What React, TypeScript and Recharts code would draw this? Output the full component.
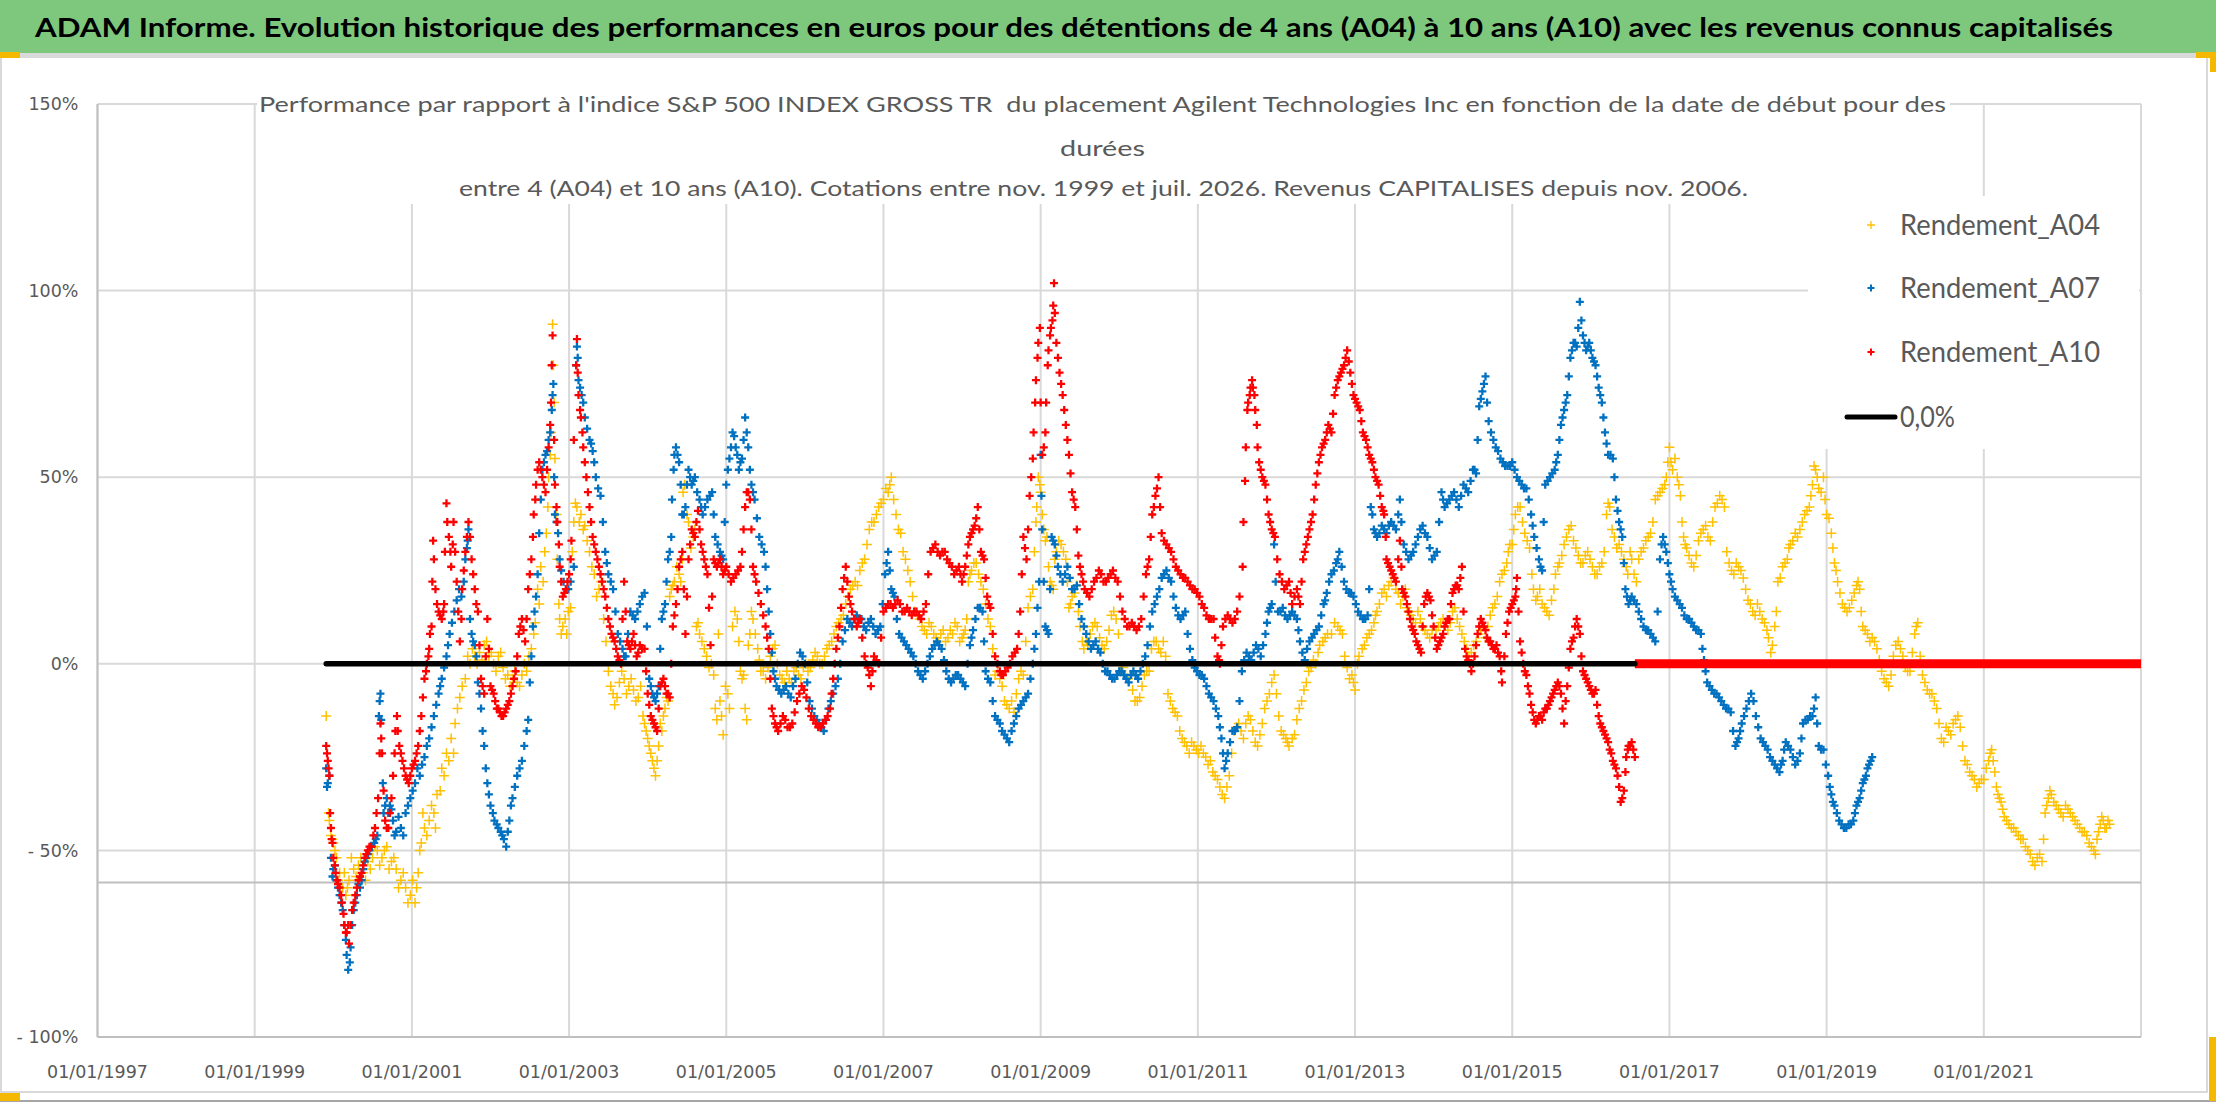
import React from 'react';
import { ScatterChart, Scatter, XAxis, YAxis, CartesianGrid, ReferenceLine } from 'recharts';

const CHART_W = 2216;
const CHART_H = 1102;

const MAIN_TITLE =
  'ADAM Informe. Evolution historique des performances en euros pour des détentions de 4 ans (A04) à 10 ans (A10) avec les revenus connus capitalisés';
const SUB_TITLE_LINES = [
  "Performance par rapport à l'indice S&P 500 INDEX GROSS TR  du placement Agilent Technologies Inc en fonction de la date de début pour des",
  'durées',
  'entre 4 (A04) et 10 ans (A10). Cotations entre nov. 1999 et juil. 2026. Revenus CAPITALISES depuis nov. 2006.',
];
const SERIES_NAMES = ['Rendement_A04', 'Rendement_A07', 'Rendement_A10', '0,0%'];
const SERIES_COLORS = ['#FFC000', '#0070C0', '#FF0000', '#000000'];

const X_TICKS = [1997, 1999, 2001, 2003, 2005, 2007, 2009, 2011, 2013, 2015, 2017, 2019, 2021];
const X_DOMAIN: [number, number] = [1997, 2023];
const Y_TICKS = [-100, -50, 0, 50, 100, 150];
const Y_DOMAIN: [number, number] = [-100, 150];
const H_AXIS_CROSS = -58.6;

// [date (decimal year), performance %] — centre of each band
const A04: [number, number][] = [
  [1999.91, -14], [1999.94, -40], [1999.97, -46], [2000.0, -48], [2000.04, -52], [2000.08, -56], [2000.12, -60], [2000.16, -62],
  [2000.2, -58], [2000.26, -55], [2000.32, -54], [2000.38, -56], [2000.44, -53], [2000.5, -52], [2000.56, -50], [2000.62, -52],
  [2000.68, -49], [2000.74, -53], [2000.8, -55], [2000.86, -58], [2000.92, -60], [2000.98, -62], [2001.04, -64], [2001.08, -56],
  [2001.12, -48], [2001.16, -44], [2001.22, -42], [2001.28, -40], [2001.32, -35], [2001.38, -28], [2001.44, -24], [2001.5, -20],
  [2001.55, -16], [2001.61, -9], [2001.68, -4], [2001.74, 0], [2001.8, 2], [2001.86, 3], [2001.92, 5], [2001.98, 2],
  [2002.04, 0], [2002.1, 2], [2002.16, -1], [2002.22, -3], [2002.28, -4], [2002.34, -5], [2002.4, -3], [2002.46, -2],
  [2002.52, 4], [2002.57, 11], [2002.62, 16], [2002.67, 22], [2002.71, 35], [2002.74, 50], [2002.77, 62], [2002.79, 91],
  [2002.8, 80], [2002.82, 55], [2002.85, 28], [2002.88, 12], [2002.92, 10], [2002.97, 8], [2003.02, 15], [2003.06, 38],
  [2003.1, 42], [2003.15, 40], [2003.2, 37], [2003.26, 30], [2003.32, 24], [2003.38, 20], [2003.44, 12], [2003.5, -2],
  [2003.56, -8], [2003.58, -11], [2003.64, -5], [2003.7, -4], [2003.76, -6], [2003.82, -7], [2003.88, -9], [2003.94, -14],
  [2003.98, -18], [2004.02, -22], [2004.06, -26], [2004.1, -30], [2004.14, -22], [2004.18, -18], [2004.22, -12], [2004.26, -10],
  [2004.3, 20], [2004.34, 22], [2004.4, 24], [2004.44, 28], [2004.47, 48], [2004.52, 38], [2004.58, 34], [2004.62, 10],
  [2004.66, 8], [2004.72, 4], [2004.78, -1], [2004.84, -3], [2004.88, -15], [2004.92, -10], [2004.96, -19], [2005.02, -8],
  [2005.08, 10], [2005.14, 12], [2005.18, -2], [2005.22, -3], [2005.26, -15], [2005.3, 8], [2005.34, 12], [2005.4, 4],
  [2005.44, -2], [2005.5, -4], [2005.56, 2], [2005.62, 5], [2005.68, -3], [2005.74, -5], [2005.8, -4], [2005.86, -2],
  [2005.92, -3], [2005.98, -1], [2006.04, -2], [2006.1, 1], [2006.16, 2], [2006.22, 0], [2006.28, 4], [2006.34, 6],
  [2006.4, 10], [2006.46, 12], [2006.52, 16], [2006.58, 20], [2006.64, 22], [2006.7, 25], [2006.76, 28], [2006.82, 36],
  [2006.88, 38], [2006.94, 42], [2007.0, 44], [2007.06, 46], [2007.1, 50], [2007.16, 40], [2007.22, 35], [2007.28, 28],
  [2007.34, 22], [2007.4, 14], [2007.46, 12], [2007.52, 9], [2007.58, 11], [2007.64, 8], [2007.7, 6], [2007.76, 9],
  [2007.82, 7], [2007.88, 8], [2007.94, 10], [2008.0, 7], [2008.04, 9], [2008.08, 22], [2008.12, 25], [2008.18, 27],
  [2008.24, 22], [2008.3, 16], [2008.36, 10], [2008.42, -3], [2008.48, -4], [2008.54, -10], [2008.6, -12], [2008.66, -13],
  [2008.72, -4], [2008.78, -3], [2008.84, 15], [2008.9, 20], [2008.94, 38], [2008.97, 50], [2009.0, 46], [2009.04, 36],
  [2009.08, 34], [2009.12, 22], [2009.16, 20], [2009.2, 30], [2009.26, 32], [2009.32, 28], [2009.36, 15], [2009.4, 18],
  [2009.46, 21], [2009.5, 10], [2009.55, 4], [2009.6, 5], [2009.66, 10], [2009.72, 10], [2009.78, 5], [2009.84, 6],
  [2009.9, 13], [2009.96, 12], [2010.02, -2], [2010.08, -3], [2010.14, -3], [2010.2, -10], [2010.26, -9], [2010.32, -3],
  [2010.38, -2], [2010.44, 6], [2010.5, 4], [2010.56, 6], [2010.62, -8], [2010.68, -12], [2010.74, -14], [2010.8, -20],
  [2010.86, -22], [2010.92, -21], [2010.98, -23], [2011.04, -22], [2011.1, -25], [2011.16, -26], [2011.22, -30], [2011.28, -33],
  [2011.34, -36], [2011.4, -30], [2011.46, -18], [2011.52, -16], [2011.58, -20], [2011.64, -14], [2011.7, -18], [2011.76, -22],
  [2011.82, -16], [2011.88, -10], [2011.94, -5], [2012.0, -8], [2012.06, -18], [2012.12, -20], [2012.16, -22], [2012.2, -20],
  [2012.26, -15], [2012.32, -10], [2012.38, -5], [2012.44, -1], [2012.5, 0], [2012.55, 5], [2012.62, 7], [2012.7, 8],
  [2012.78, 10], [2012.84, 8], [2012.9, -1], [2012.96, -3], [2013.0, -7], [2013.05, 2], [2013.12, 5], [2013.18, 8],
  [2013.24, 11], [2013.28, 14], [2013.34, 19], [2013.4, 18], [2013.46, 22], [2013.52, 20], [2013.58, 16], [2013.64, 20],
  [2013.68, 14], [2013.74, 12], [2013.8, 14], [2013.86, 10], [2013.92, 8], [2013.98, 9], [2014.06, 10], [2014.12, 12],
  [2014.18, 9], [2014.24, 14], [2014.3, 12], [2014.36, 8], [2014.42, 4], [2014.48, 3], [2014.54, 6], [2014.6, 9],
  [2014.66, 7], [2014.72, 13], [2014.78, 16], [2014.84, 22], [2014.9, 25], [2014.95, 30], [2015.0, 32], [2015.04, 40],
  [2015.1, 42], [2015.16, 35], [2015.22, 31], [2015.27, 20], [2015.32, 18], [2015.38, 16], [2015.44, 14], [2015.5, 17],
  [2015.55, 24], [2015.6, 27], [2015.66, 32], [2015.72, 36], [2015.78, 33], [2015.84, 29], [2015.9, 27], [2015.96, 30],
  [2016.02, 26], [2016.08, 24], [2016.14, 27], [2016.2, 40], [2016.24, 42], [2016.3, 34], [2016.36, 32], [2016.42, 28],
  [2016.47, 24], [2016.52, 28], [2016.58, 22], [2016.64, 30], [2016.7, 33], [2016.76, 35], [2016.82, 44], [2016.88, 46],
  [2016.94, 48], [2016.98, 54], [2017.0, 58], [2017.04, 52], [2017.1, 50], [2017.14, 45], [2017.18, 34], [2017.22, 31],
  [2017.28, 27], [2017.34, 29], [2017.4, 35], [2017.46, 37], [2017.52, 33], [2017.58, 42], [2017.64, 45], [2017.7, 42],
  [2017.76, 27], [2017.82, 24], [2017.88, 26], [2017.94, 23], [2018.0, 17], [2018.06, 14], [2018.12, 16], [2018.18, 12],
  [2018.24, 9], [2018.29, 3], [2018.34, 10], [2018.38, 22], [2018.44, 26], [2018.5, 28], [2018.54, 32], [2018.6, 35],
  [2018.66, 36], [2018.72, 40], [2018.78, 42], [2018.82, 48], [2018.86, 52], [2018.9, 47], [2018.96, 50], [2019.0, 40],
  [2019.06, 35], [2019.1, 27], [2019.14, 22], [2019.2, 16], [2019.26, 14], [2019.32, 17], [2019.38, 21], [2019.42, 20],
  [2019.46, 10], [2019.52, 8], [2019.58, 7], [2019.64, 4], [2019.7, -2], [2019.76, -5], [2019.82, -3], [2019.88, 5],
  [2019.94, 4], [2020.0, -1], [2020.06, -2], [2020.12, 8], [2020.16, 11], [2020.22, -3], [2020.28, -7], [2020.34, -8],
  [2020.4, -12], [2020.46, -20], [2020.52, -17], [2020.58, -19], [2020.64, -15], [2020.7, -17], [2020.76, -26], [2020.82, -29],
  [2020.88, -31], [2020.94, -32], [2021.0, -31], [2021.06, -26], [2021.1, -23], [2021.14, -29], [2021.18, -35], [2021.22, -37],
  [2021.26, -41], [2021.32, -43], [2021.38, -44], [2021.44, -46], [2021.5, -47], [2021.56, -50], [2021.62, -53], [2021.68, -52],
  [2021.74, -53], [2021.78, -40], [2021.82, -36], [2021.86, -35], [2021.92, -38], [2021.98, -40], [2022.04, -38], [2022.1, -40],
  [2022.16, -42], [2022.22, -44], [2022.28, -45], [2022.34, -48], [2022.4, -50], [2022.44, -47], [2022.48, -43], [2022.52, -42],
  [2022.56, -44], [2022.6, -43],
];

// second reading of the A04 band (its other edge)
const A04_EDGE: [number, number][] = [
  [1999.95, -42], [1999.99, -47], [2000.02, -50], [2000.06, -58], [2000.1, -62], [2000.14, -56], [2000.18, -60], [2000.23, -52],
  [2000.29, -57], [2000.35, -52], [2000.41, -58], [2000.47, -55], [2000.53, -49], [2000.59, -54], [2000.65, -50], [2000.71, -55],
  [2000.77, -52], [2000.83, -60], [2000.89, -56], [2000.95, -64], [2001.01, -58], [2001.06, -60], [2001.1, -50], [2001.14, -40],
  [2001.19, -46], [2001.25, -38], [2001.3, -44], [2001.36, -34], [2001.41, -30], [2001.47, -26], [2001.53, -24], [2001.58, -12],
  [2001.64, -6], [2001.71, 2], [2001.77, 4], [2001.83, 0], [2001.89, 1], [2001.95, 6], [2002.01, 3], [2002.07, -2],
  [2002.13, 3], [2002.19, -4], [2002.25, -6], [2002.31, -2], [2002.37, -6], [2002.43, 0], [2002.49, 2], [2002.55, 8],
  [2002.6, 20], [2002.64, 26], [2002.69, 30], [2002.73, 42], [2002.76, 56], [2002.78, 80], [2002.81, 70], [2002.84, 40],
  [2002.87, 16], [2002.9, 8], [2002.95, 12], [2002.99, 14], [2003.04, 30], [2003.08, 43], [2003.13, 38], [2003.18, 36],
  [2003.23, 33], [2003.29, 26], [2003.35, 18], [2003.41, 22], [2003.47, 6], [2003.53, -6], [2003.61, -9], [2003.67, -2],
  [2003.73, -8], [2003.79, -4], [2003.85, -10], [2003.91, -6], [2003.96, -16], [2004.0, -20], [2004.04, -24], [2004.08, -28],
  [2004.12, -26], [2004.16, -16], [2004.2, -14], [2004.24, -9], [2004.28, 18], [2004.32, 21], [2004.37, 26], [2004.42, 22],
  [2004.45, 46], [2004.5, 40], [2004.55, 31], [2004.6, 36], [2004.64, 11], [2004.69, 6], [2004.75, 2], [2004.81, 0],
  [2004.86, -12], [2004.9, 8], [2004.94, -14], [2004.99, -6], [2005.04, -12], [2005.11, 14], [2005.16, 6], [2005.2, -4],
  [2005.24, -12], [2005.28, 5], [2005.32, 14], [2005.37, 8], [2005.42, 1], [2005.47, -2], [2005.53, -1], [2005.59, 4],
  [2005.65, 0], [2005.71, -4], [2005.77, -2], [2005.83, -5], [2005.89, -1], [2005.95, -4], [2006.01, 0], [2006.07, -1],
  [2006.13, 3], [2006.19, 0], [2006.25, 2], [2006.31, 5], [2006.37, 8], [2006.43, 11], [2006.49, 13], [2006.55, 18],
  [2006.61, 21], [2006.67, 21], [2006.73, 27], [2006.79, 32], [2006.85, 38], [2006.91, 40], [2006.97, 43], [2007.03, 47],
  [2007.08, 48], [2007.13, 44], [2007.19, 36], [2007.25, 30], [2007.31, 25], [2007.37, 18], [2007.43, 13], [2007.49, 10],
  [2007.55, 8], [2007.61, 10], [2007.67, 7], [2007.73, 8], [2007.79, 6], [2007.85, 9], [2007.91, 11], [2007.97, 6],
  [2008.02, 8], [2008.06, 12], [2008.1, 24], [2008.15, 27], [2008.21, 24], [2008.27, 20], [2008.33, 12], [2008.39, 4],
  [2008.45, -2], [2008.51, -6], [2008.57, -11], [2008.63, -10], [2008.69, -8], [2008.75, -2], [2008.81, 6], [2008.87, 18],
  [2008.92, 30], [2008.95, 42], [2008.99, 48], [2009.02, 40], [2009.06, 33], [2009.1, 26], [2009.14, 21], [2009.18, 28],
  [2009.23, 33], [2009.29, 30], [2009.34, 22], [2009.38, 16], [2009.43, 19], [2009.48, 14], [2009.53, 6], [2009.58, 6],
  [2009.63, 8], [2009.69, 11], [2009.75, 7], [2009.81, 4], [2009.87, 9], [2009.93, 14], [2009.99, 8], [2010.05, -1],
  [2010.11, -4], [2010.17, -7], [2010.23, -10], [2010.29, -6], [2010.35, -2], [2010.41, 4], [2010.47, 6], [2010.53, 3],
  [2010.59, 2], [2010.65, -10], [2010.71, -13], [2010.77, -18], [2010.83, -21], [2010.89, -24], [2010.95, -22], [2011.01, -24],
  [2011.07, -24], [2011.13, -27], [2011.19, -29], [2011.25, -31], [2011.31, -35], [2011.37, -33], [2011.43, -24], [2011.49, -17],
  [2011.55, -18], [2011.61, -16], [2011.67, -15], [2011.73, -21], [2011.79, -19], [2011.85, -12], [2011.91, -8], [2011.97, -3],
  [2012.03, -14], [2012.09, -19], [2012.14, -21], [2012.23, -19], [2012.29, -12], [2012.35, -7], [2012.41, -2], [2012.47, 1],
  [2012.53, 3], [2012.59, 6], [2012.65, 8], [2012.74, 11], [2012.81, 9], [2012.87, 2], [2012.93, -4], [2012.98, -5],
  [2013.03, 0], [2013.09, 4], [2013.15, 7], [2013.21, 9], [2013.26, 13], [2013.31, 16], [2013.37, 20], [2013.43, 21],
  [2013.49, 23], [2013.55, 19], [2013.61, 18], [2013.66, 15], [2013.71, 13], [2013.77, 11], [2013.83, 12], [2013.89, 9],
  [2013.95, 7], [2014.03, 9], [2014.09, 11], [2014.15, 11], [2014.21, 11], [2014.27, 15], [2014.33, 10], [2014.39, 6],
  [2014.45, 2], [2014.51, 5], [2014.57, 8], [2014.63, 10], [2014.69, 10], [2014.75, 15], [2014.81, 18], [2014.87, 24],
  [2014.93, 27], [2014.97, 32], [2015.02, 36], [2015.07, 42], [2015.13, 38], [2015.19, 33], [2015.25, 24], [2015.3, 17],
  [2015.35, 20], [2015.41, 15], [2015.47, 13], [2015.53, 20], [2015.58, 26], [2015.63, 29], [2015.69, 34], [2015.75, 37],
  [2015.81, 31], [2015.87, 27], [2015.93, 29], [2015.99, 28], [2016.05, 24], [2016.11, 26], [2016.17, 30], [2016.22, 43],
  [2016.27, 36], [2016.33, 31], [2016.39, 30], [2016.45, 26], [2016.5, 30], [2016.55, 24], [2016.61, 28], [2016.67, 31],
  [2016.73, 34], [2016.79, 38], [2016.85, 45], [2016.91, 47], [2016.96, 50], [2017.02, 54], [2017.07, 55], [2017.12, 48],
  [2017.16, 38], [2017.2, 32], [2017.25, 29], [2017.31, 26], [2017.37, 33], [2017.43, 36], [2017.49, 34], [2017.55, 38],
  [2017.61, 43], [2017.67, 44], [2017.73, 30], [2017.79, 25], [2017.85, 27], [2017.91, 25], [2017.97, 20], [2018.03, 16],
  [2018.09, 13], [2018.15, 14], [2018.21, 11], [2018.26, 7], [2018.31, 5], [2018.36, 14], [2018.41, 23], [2018.47, 27],
  [2018.52, 31], [2018.57, 33], [2018.63, 34], [2018.69, 38], [2018.75, 41], [2018.8, 45], [2018.84, 53], [2018.88, 50],
  [2018.93, 46], [2018.98, 44], [2019.03, 39], [2019.08, 31], [2019.12, 25], [2019.17, 19], [2019.23, 15], [2019.29, 15],
  [2019.35, 19], [2019.4, 22], [2019.44, 14], [2019.49, 9], [2019.55, 6], [2019.61, 6], [2019.67, 1], [2019.73, -4],
  [2019.79, -6], [2019.85, 2], [2019.91, 6], [2019.97, 2], [2020.03, -2], [2020.09, 3], [2020.14, 10], [2020.19, 2],
  [2020.25, -5], [2020.31, -8], [2020.37, -10], [2020.43, -16], [2020.49, -21], [2020.55, -18], [2020.61, -16], [2020.67, -14],
  [2020.73, -22], [2020.79, -27], [2020.85, -30], [2020.91, -33], [2020.97, -31], [2021.03, -28], [2021.08, -24], [2021.12, -26],
  [2021.16, -33], [2021.2, -36], [2021.24, -39], [2021.29, -42], [2021.35, -44], [2021.41, -45], [2021.47, -47], [2021.53, -49],
  [2021.59, -51], [2021.65, -54], [2021.71, -51], [2021.76, -47], [2021.8, -38], [2021.84, -34], [2021.89, -37], [2021.95, -39],
  [2022.01, -41], [2022.07, -39], [2022.13, -41], [2022.19, -43], [2022.25, -45], [2022.31, -46], [2022.37, -49], [2022.42, -51],
  [2022.46, -45], [2022.5, -41], [2022.54, -44], [2022.58, -42],
];

const A07: [number, number][] = [
  [1999.91, -28], [1999.93, -32], [1999.97, -52], [2000.0, -55], [2000.04, -58], [2000.08, -62], [2000.12, -66], [2000.16, -74],
  [2000.19, -82], [2000.22, -76], [2000.26, -66], [2000.3, -62], [2000.34, -60], [2000.38, -55], [2000.42, -52], [2000.46, -50],
  [2000.52, -48], [2000.56, -46], [2000.59, -10], [2000.61, -15], [2000.64, -40], [2000.68, -36], [2000.72, -38], [2000.76, -42],
  [2000.8, -45], [2000.86, -44], [2000.92, -40], [2000.98, -36], [2001.04, -32], [2001.1, -30], [2001.16, -25], [2001.22, -20],
  [2001.28, -14], [2001.34, -8], [2001.38, -4], [2001.44, 2], [2001.48, 8], [2001.54, 14], [2001.6, 20], [2001.66, 22],
  [2001.7, 31], [2001.72, 36], [2001.76, 8], [2001.8, 5], [2001.84, -5], [2001.88, -12], [2001.92, -22], [2001.96, -32],
  [2002.0, -38], [2002.05, -42], [2002.1, -44], [2002.15, -46], [2002.2, -49], [2002.24, -42], [2002.28, -36], [2002.34, -30],
  [2002.4, -26], [2002.46, -18], [2002.5, -5], [2002.54, 10], [2002.58, 18], [2002.62, 35], [2002.66, 52], [2002.7, 56],
  [2002.74, 60], [2002.78, 68], [2002.8, 75], [2002.82, 40], [2002.86, 35], [2002.9, 25], [2002.96, 20], [2003.02, 22],
  [2003.1, 85], [2003.12, 76], [2003.16, 72], [2003.2, 66], [2003.26, 60], [2003.3, 57], [2003.34, 50], [2003.4, 45],
  [2003.46, 30], [2003.5, 24], [2003.56, 20], [2003.62, 8], [2003.68, 4], [2003.72, 2], [2003.78, 14], [2003.84, 12],
  [2003.9, 16], [2003.96, 19], [2004.02, -4], [2004.06, -8], [2004.1, -10], [2004.14, -6], [2004.18, 12], [2004.22, 16],
  [2004.26, 28], [2004.3, 34], [2004.33, 52], [2004.36, 58], [2004.4, 54], [2004.44, 40], [2004.48, 42], [2004.52, 52],
  [2004.56, 48], [2004.6, 50], [2004.66, 44], [2004.7, 40], [2004.76, 44], [2004.82, 46], [2004.86, 34], [2004.92, 30],
  [2004.96, 28], [2005.0, 48], [2005.04, 55], [2005.08, 62], [2005.12, 58], [2005.16, 52], [2005.2, 55], [2005.24, 66],
  [2005.28, 58], [2005.32, 48], [2005.36, 44], [2005.42, 34], [2005.48, 30], [2005.52, 20], [2005.56, 8], [2005.6, -2],
  [2005.64, -6], [2005.7, -8], [2005.76, -6], [2005.82, -9], [2005.88, -4], [2005.94, 3], [2006.0, 0], [2006.06, -10],
  [2006.12, -14], [2006.18, -16], [2006.24, -18], [2006.3, -12], [2006.36, -8], [2006.42, -4], [2006.48, 6], [2006.54, 12],
  [2006.6, 10], [2006.66, 13], [2006.72, 12], [2006.78, 9], [2006.84, 12], [2006.9, 8], [2006.96, 10], [2007.02, 24],
  [2007.06, 30], [2007.1, 20], [2007.14, 18], [2007.2, 8], [2007.26, 6], [2007.32, 4], [2007.38, 2], [2007.44, -2],
  [2007.5, -4], [2007.56, 0], [2007.62, 4], [2007.68, 6], [2007.74, 4], [2007.8, -2], [2007.86, -5], [2007.92, -3],
  [2007.98, -4], [2008.04, -6], [2008.1, 5], [2008.14, 9], [2008.2, 15], [2008.26, 14], [2008.3, -2], [2008.36, -5],
  [2008.42, -14], [2008.48, -16], [2008.54, -19], [2008.6, -21], [2008.66, -16], [2008.72, -12], [2008.78, -10], [2008.84, -8],
  [2008.9, 0], [2008.94, 8], [2008.98, 22], [2009.0, 56], [2009.02, 36], [2009.06, 10], [2009.1, 8], [2009.14, 34],
  [2009.18, 32], [2009.22, 26], [2009.28, 22], [2009.34, 26], [2009.4, 20], [2009.46, 21], [2009.52, 12], [2009.58, 8],
  [2009.64, 4], [2009.7, 6], [2009.76, 3], [2009.82, -2], [2009.88, -3], [2009.94, -4], [2010.0, -2], [2010.06, -3],
  [2010.12, -5], [2010.18, -2], [2010.24, -4], [2010.3, 0], [2010.36, 5], [2010.42, 14], [2010.48, 18], [2010.54, 23],
  [2010.6, 25], [2010.66, 22], [2010.72, 15], [2010.78, 12], [2010.84, 14], [2010.9, 4], [2010.96, -1], [2011.02, -3],
  [2011.08, -4], [2011.14, -8], [2011.2, -10], [2011.26, -14], [2011.3, -20], [2011.34, -28], [2011.38, -24], [2011.44, -18],
  [2011.5, -17], [2011.56, -2], [2011.62, 3], [2011.68, 1], [2011.74, 5], [2011.8, 2], [2011.86, 8], [2011.9, 14],
  [2011.94, 16], [2011.97, 32], [2012.02, 14], [2012.08, 15], [2012.14, 12], [2012.2, 14], [2012.26, 12], [2012.3, 6],
  [2012.36, 1], [2012.42, 6], [2012.48, 8], [2012.54, 10], [2012.6, 16], [2012.64, 19], [2012.7, 24], [2012.76, 27],
  [2012.8, 30], [2012.86, 22], [2012.92, 19], [2012.98, 18], [2013.04, 14], [2013.1, 12], [2013.16, 13], [2013.2, 42],
  [2013.24, 36], [2013.28, 34], [2013.34, 37], [2013.4, 35], [2013.46, 38], [2013.52, 36], [2013.57, 44], [2013.62, 32],
  [2013.68, 28], [2013.74, 30], [2013.8, 34], [2013.86, 37], [2013.92, 34], [2013.98, 28], [2014.04, 30], [2014.1, 46],
  [2014.14, 42], [2014.2, 44], [2014.26, 46], [2014.32, 42], [2014.38, 48], [2014.44, 46], [2014.5, 52], [2014.54, 51],
  [2014.58, 69], [2014.62, 73], [2014.66, 77], [2014.7, 65], [2014.76, 60], [2014.82, 57], [2014.88, 54], [2014.94, 53],
  [2015.0, 54], [2015.06, 50], [2015.12, 48], [2015.18, 47], [2015.24, 40], [2015.28, 34], [2015.34, 28], [2015.38, 25],
  [2015.42, 48], [2015.48, 50], [2015.54, 52], [2015.58, 56], [2015.62, 64], [2015.66, 68], [2015.7, 72], [2015.74, 82],
  [2015.78, 86], [2015.82, 85], [2015.86, 97], [2015.9, 88], [2015.94, 84], [2015.98, 86], [2016.02, 82], [2016.06, 80],
  [2016.1, 74], [2016.14, 70], [2016.18, 62], [2016.22, 56], [2016.28, 55], [2016.32, 44], [2016.36, 38], [2016.4, 34],
  [2016.44, 20], [2016.48, 16], [2016.52, 18], [2016.58, 16], [2016.64, 12], [2016.7, 9], [2016.76, 8], [2016.82, 6],
  [2016.88, 28], [2016.92, 34], [2016.96, 30], [2017.0, 24], [2017.04, 20], [2017.1, 17], [2017.16, 15], [2017.22, 12],
  [2017.28, 11], [2017.34, 9], [2017.4, 8], [2017.44, 1], [2017.48, -5], [2017.54, -7], [2017.6, -8], [2017.66, -10],
  [2017.72, -12], [2017.78, -13], [2017.84, -22], [2017.88, -20], [2017.92, -16], [2017.98, -12], [2018.04, -8], [2018.1, -14],
  [2018.16, -20], [2018.22, -22], [2018.28, -25], [2018.34, -27], [2018.4, -29], [2018.44, -26], [2018.48, -21], [2018.54, -23],
  [2018.6, -27], [2018.66, -24], [2018.7, -16], [2018.76, -15], [2018.82, -14], [2018.86, -9], [2018.9, -22], [2018.96, -23],
  [2019.02, -30], [2019.06, -35], [2019.1, -38], [2019.16, -42], [2019.22, -44], [2019.28, -43], [2019.34, -42], [2019.38, -38],
  [2019.42, -36], [2019.46, -32], [2019.5, -30], [2019.54, -27], [2019.58, -25],
];

// second reading of the A07 band (its other edge)
const A07_EDGE: [number, number][] = [
  [1999.92, -33], [1999.95, -30], [1999.99, -57], [2000.02, -54], [2000.06, -60], [2000.1, -64], [2000.14, -70], [2000.17, -78],
  [2000.21, -80], [2000.24, -70], [2000.28, -64], [2000.32, -59], [2000.36, -58], [2000.4, -53], [2000.44, -51], [2000.49, -49],
  [2000.54, -47], [2000.58, -14], [2000.6, -8], [2000.63, -32], [2000.66, -38], [2000.7, -40], [2000.74, -39], [2000.78, -46],
  [2000.83, -41], [2000.89, -46], [2000.95, -38], [2001.01, -34], [2001.07, -28], [2001.13, -27], [2001.19, -22], [2001.25, -17],
  [2001.31, -11], [2001.36, -6], [2001.41, -1], [2001.46, 5], [2001.51, 11], [2001.57, 17], [2001.63, 18], [2001.68, 28],
  [2001.71, 33], [2001.74, 12], [2001.78, 6], [2001.82, 2], [2001.86, -8], [2001.9, -18], [2001.94, -28], [2001.98, -35],
  [2002.03, -40], [2002.08, -43], [2002.13, -45], [2002.17, -47], [2002.22, -45], [2002.26, -38], [2002.31, -33], [2002.37, -28],
  [2002.43, -22], [2002.48, -15], [2002.52, 2], [2002.56, 14], [2002.6, 24], [2002.64, 44], [2002.68, 54], [2002.72, 57],
  [2002.76, 62], [2002.79, 72], [2002.81, 50], [2002.84, 38], [2002.88, 28], [2002.93, 22], [2002.99, 20], [2003.06, 26],
  [2003.09, 80], [2003.11, 82], [2003.14, 74], [2003.18, 70], [2003.23, 63], [2003.28, 59], [2003.32, 54], [2003.37, 47],
  [2003.43, 38], [2003.48, 27], [2003.53, 22], [2003.59, 14], [2003.65, 6], [2003.7, 2], [2003.75, 8], [2003.81, 13],
  [2003.87, 14], [2003.93, 18], [2003.99, 10], [2004.04, -6], [2004.08, -9], [2004.12, -8], [2004.16, 4], [2004.2, 14],
  [2004.24, 22], [2004.28, 30], [2004.31, 44], [2004.34, 56], [2004.38, 56], [2004.42, 48], [2004.46, 40], [2004.5, 48],
  [2004.54, 50], [2004.58, 49], [2004.63, 46], [2004.68, 42], [2004.73, 42], [2004.79, 45], [2004.84, 40], [2004.89, 32],
  [2004.94, 29], [2004.98, 38], [2005.02, 52], [2005.06, 58], [2005.1, 61], [2005.14, 56], [2005.18, 54], [2005.22, 60],
  [2005.26, 62], [2005.3, 52], [2005.34, 46], [2005.39, 39], [2005.45, 32], [2005.5, 26], [2005.54, 14], [2005.58, 3],
  [2005.62, -4], [2005.67, -7], [2005.73, -7], [2005.79, -8], [2005.85, -6], [2005.91, 0], [2005.97, 2], [2006.03, -5],
  [2006.09, -12], [2006.15, -15], [2006.21, -17], [2006.27, -15], [2006.33, -10], [2006.39, -6], [2006.45, 0], [2006.51, 9],
  [2006.57, 11], [2006.63, 12], [2006.69, 12], [2006.75, 10], [2006.81, 11], [2006.87, 10], [2006.93, 9], [2006.99, 16],
  [2007.04, 27], [2007.08, 25], [2007.12, 19], [2007.17, 12], [2007.23, 7], [2007.29, 5], [2007.35, 3], [2007.41, 0],
  [2007.47, -3], [2007.53, -2], [2007.59, 2], [2007.65, 5], [2007.71, 5], [2007.77, 1], [2007.83, -4], [2007.89, -4],
  [2007.95, -3], [2008.01, -5], [2008.07, 0], [2008.12, 7], [2008.17, 12], [2008.23, 15], [2008.28, 6], [2008.33, -4],
  [2008.39, -10], [2008.45, -15], [2008.51, -18], [2008.57, -20], [2008.63, -18], [2008.69, -14], [2008.75, -11], [2008.81, -9],
  [2008.87, -4], [2008.92, 4], [2008.96, 15], [2009.01, 45], [2009.04, 22], [2009.08, 9], [2009.12, 20], [2009.16, 33],
  [2009.2, 29], [2009.25, 24], [2009.31, 24], [2009.37, 23], [2009.43, 20], [2009.49, 16], [2009.55, 10], [2009.61, 6],
  [2009.67, 5], [2009.73, 4], [2009.79, 0], [2009.85, -2], [2009.91, -4], [2009.97, -3], [2010.03, -2], [2010.09, -4],
  [2010.15, -3], [2010.21, -3], [2010.27, -2], [2010.33, 2], [2010.39, 10], [2010.45, 16], [2010.51, 20], [2010.57, 24],
  [2010.63, 23], [2010.69, 18], [2010.75, 13], [2010.81, 13], [2010.87, 8], [2010.93, 1], [2010.99, -2], [2011.05, -3],
  [2011.11, -6], [2011.17, -9], [2011.23, -12], [2011.28, -17], [2011.32, -24], [2011.36, -26], [2011.41, -21], [2011.47, -18],
  [2011.53, -10], [2011.59, 1], [2011.65, 2], [2011.71, 3], [2011.77, 4], [2011.83, 5], [2011.88, 11], [2011.92, 15],
  [2011.99, 22], [2012.05, 14], [2012.11, 13], [2012.17, 13], [2012.23, 13], [2012.28, 9], [2012.33, 3], [2012.39, 4],
  [2012.45, 7], [2012.51, 9], [2012.57, 13], [2012.62, 17], [2012.67, 22], [2012.73, 25], [2012.78, 28], [2012.83, 26],
  [2012.89, 20], [2012.95, 19], [2013.01, 16], [2013.07, 13], [2013.13, 12], [2013.18, 20], [2013.22, 40], [2013.26, 35],
  [2013.31, 35], [2013.37, 36], [2013.43, 37], [2013.49, 37], [2013.55, 40], [2013.59, 38], [2013.65, 30], [2013.71, 29],
  [2013.77, 32], [2013.83, 36], [2013.89, 35], [2013.95, 31], [2014.01, 29], [2014.07, 38], [2014.12, 44], [2014.17, 43],
  [2014.23, 45], [2014.29, 44], [2014.35, 45], [2014.41, 47], [2014.47, 49], [2014.52, 52], [2014.56, 60], [2014.6, 71],
  [2014.64, 75], [2014.68, 70], [2014.73, 62], [2014.79, 58], [2014.85, 55], [2014.91, 53], [2014.97, 53], [2015.03, 52],
  [2015.09, 49], [2015.15, 47], [2015.21, 44], [2015.26, 37], [2015.31, 31], [2015.36, 26], [2015.4, 38], [2015.45, 49],
  [2015.51, 51], [2015.56, 54], [2015.6, 60], [2015.64, 66], [2015.68, 70], [2015.72, 77], [2015.76, 84], [2015.8, 86],
  [2015.84, 90], [2015.88, 92], [2015.92, 86], [2015.96, 85], [2016.0, 84], [2016.04, 81], [2016.08, 77], [2016.12, 72],
  [2016.16, 66], [2016.2, 59], [2016.25, 56], [2016.3, 50], [2016.34, 41], [2016.38, 36], [2016.42, 27], [2016.46, 18],
  [2016.5, 17], [2016.55, 17], [2016.61, 14], [2016.67, 10], [2016.73, 9], [2016.79, 7], [2016.85, 14], [2016.9, 32],
  [2016.94, 32], [2016.98, 27], [2017.02, 22], [2017.07, 18], [2017.13, 16], [2017.19, 13], [2017.25, 12], [2017.31, 10],
  [2017.37, 9], [2017.42, 4], [2017.46, -2], [2017.51, -6], [2017.57, -8], [2017.63, -9], [2017.69, -11], [2017.75, -12],
  [2017.81, -18], [2017.86, -21], [2017.9, -18], [2017.95, -14], [2018.01, -10], [2018.07, -10], [2018.13, -17], [2018.19, -21],
  [2018.25, -23], [2018.31, -26], [2018.37, -28], [2018.42, -27], [2018.46, -23], [2018.51, -22], [2018.57, -25], [2018.63, -26],
  [2018.68, -20], [2018.73, -15], [2018.79, -14], [2018.84, -12], [2018.88, -16], [2018.93, -23], [2018.99, -27], [2019.04, -33],
  [2019.08, -37], [2019.13, -40], [2019.19, -43], [2019.25, -44], [2019.31, -43], [2019.36, -40], [2019.4, -37], [2019.44, -34],
  [2019.48, -31], [2019.52, -28], [2019.56, -26],
];

const A10: [number, number][] = [
  [1999.91, -22], [1999.93, -26], [1999.95, -30], [1999.97, -44], [1999.99, -48], [2000.02, -54], [2000.05, -58], [2000.08, -60],
  [2000.11, -64], [2000.14, -70], [2000.17, -72], [2000.2, -75], [2000.24, -66], [2000.28, -62], [2000.32, -58], [2000.36, -56],
  [2000.4, -52], [2000.44, -50], [2000.48, -49], [2000.53, -44], [2000.57, -36], [2000.6, -16], [2000.62, -24], [2000.66, -42],
  [2000.7, -44], [2000.74, -36], [2000.78, -24], [2000.81, -14], [2000.84, -22], [2000.88, -26], [2000.92, -30], [2000.96, -32],
  [2001.0, -28], [2001.04, -26], [2001.08, -22], [2001.12, -14], [2001.16, -4], [2001.19, 0], [2001.22, 4], [2001.25, 10],
  [2001.27, 33], [2001.3, 20], [2001.34, 14], [2001.38, 12], [2001.41, 16], [2001.44, 43], [2001.47, 34], [2001.5, 26],
  [2001.53, 38], [2001.57, 22], [2001.61, 6], [2001.64, 20], [2001.68, 30], [2001.72, 38], [2001.76, 28], [2001.8, 20],
  [2001.84, 14], [2001.88, -4], [2001.92, -8], [2001.96, 12], [2002.0, -6], [2002.04, -8], [2002.08, -12], [2002.12, -13],
  [2002.16, -14], [2002.2, -12], [2002.24, -10], [2002.28, -6], [2002.32, -2], [2002.36, 8], [2002.4, 12], [2002.44, 6],
  [2002.48, 20], [2002.52, 28], [2002.55, 40], [2002.58, 48], [2002.62, 54], [2002.66, 50], [2002.7, 46], [2002.74, 58],
  [2002.77, 70], [2002.79, 88], [2002.82, 48], [2002.85, 38], [2002.88, 26], [2002.92, 18], [2002.96, 20], [2003.0, 24],
  [2003.03, 33], [2003.1, 87], [2003.12, 72], [2003.15, 66], [2003.18, 58], [2003.22, 50], [2003.26, 42], [2003.3, 34],
  [2003.34, 30], [2003.38, 26], [2003.42, 22], [2003.46, 18], [2003.5, 12], [2003.54, 8], [2003.58, 6], [2003.62, 2],
  [2003.66, 0], [2003.7, 22], [2003.74, 6], [2003.78, 4], [2003.82, 8], [2003.86, 2], [2003.9, 5], [2003.96, 4],
  [2004.0, -8], [2004.04, -14], [2004.08, -16], [2004.12, -18], [2004.16, -6], [2004.2, -4], [2004.24, -8], [2004.28, -9],
  [2004.32, 10], [2004.36, 16], [2004.4, 26], [2004.44, 30], [2004.48, 8], [2004.52, 28], [2004.56, 36], [2004.6, 34],
  [2004.64, 41], [2004.68, 32], [2004.72, 28], [2004.76, 24], [2004.8, 5], [2004.84, 28], [2004.88, 26], [2004.92, 28],
  [2004.96, 24], [2005.0, 26], [2005.06, 22], [2005.12, 24], [2005.18, 26], [2005.22, 36], [2005.26, 46], [2005.3, 44],
  [2005.34, 26], [2005.38, 22], [2005.44, 16], [2005.5, 10], [2005.54, 4], [2005.58, -12], [2005.62, -16], [2005.66, -18],
  [2005.72, -14], [2005.78, -17], [2005.84, -16], [2005.9, -10], [2005.96, -6], [2006.02, -9], [2006.08, -14], [2006.14, -16],
  [2006.2, -17], [2006.26, -15], [2006.32, -12], [2006.36, -4], [2006.4, 4], [2006.44, 10], [2006.48, 20], [2006.52, 26],
  [2006.56, 18], [2006.6, 14], [2006.66, 10], [2006.7, 12], [2006.76, 2], [2006.8, -1], [2006.84, -6], [2006.88, 2],
  [2006.94, 0], [2007.0, 14], [2007.06, 16], [2007.12, 15], [2007.18, 17], [2007.24, 14], [2007.3, 15], [2007.36, 13],
  [2007.42, 14], [2007.48, 12], [2007.54, 16], [2007.6, 30], [2007.66, 32], [2007.72, 29], [2007.78, 30], [2007.84, 27],
  [2007.9, 24], [2007.96, 26], [2008.0, 22], [2008.04, 26], [2008.08, 32], [2008.12, 35], [2008.16, 37], [2008.2, 42],
  [2008.24, 30], [2008.28, 28], [2008.32, 18], [2008.36, 15], [2008.42, 2], [2008.48, -2], [2008.52, -3], [2008.58, -1],
  [2008.64, 2], [2008.7, 4], [2008.74, 14], [2008.78, 34], [2008.82, 28], [2008.86, 45], [2008.9, 55], [2008.93, 70],
  [2008.96, 82], [2008.99, 90], [2009.02, 56], [2009.06, 62], [2009.09, 80], [2009.12, 88], [2009.15, 92], [2009.17, 102],
  [2009.2, 86], [2009.24, 78], [2009.28, 72], [2009.32, 64], [2009.36, 56], [2009.4, 46], [2009.44, 42], [2009.48, 29],
  [2009.52, 24], [2009.56, 20], [2009.62, 18], [2009.68, 22], [2009.74, 25], [2009.8, 22], [2009.86, 23], [2009.92, 25],
  [2009.98, 22], [2010.04, 14], [2010.1, 10], [2010.16, 11], [2010.22, 9], [2010.28, 12], [2010.34, 24], [2010.38, 28],
  [2010.42, 40], [2010.46, 45], [2010.5, 50], [2010.54, 35], [2010.6, 32], [2010.66, 30], [2010.72, 26], [2010.78, 24],
  [2010.84, 23], [2010.9, 21], [2010.96, 20], [2011.02, 18], [2011.08, 15], [2011.14, 12], [2011.2, 12], [2011.25, 2],
  [2011.28, 0], [2011.32, 10], [2011.38, 13], [2011.44, 11], [2011.5, 14], [2011.57, 26], [2011.6, 49], [2011.63, 68],
  [2011.66, 72], [2011.69, 76], [2011.72, 72], [2011.75, 64], [2011.78, 54], [2011.82, 50], [2011.86, 48], [2011.9, 40],
  [2011.94, 36], [2011.98, 34], [2012.04, 24], [2012.1, 20], [2012.16, 22], [2012.2, 16], [2012.26, 20], [2012.3, 16],
  [2012.34, 28], [2012.38, 32], [2012.42, 36], [2012.46, 40], [2012.5, 48], [2012.54, 54], [2012.58, 58], [2012.62, 60],
  [2012.66, 64], [2012.7, 62], [2012.74, 72], [2012.78, 76], [2012.82, 78], [2012.86, 80], [2012.9, 84], [2012.94, 78],
  [2012.98, 72], [2013.02, 70], [2013.06, 68], [2013.1, 62], [2013.14, 60], [2013.18, 56], [2013.22, 54], [2013.26, 50],
  [2013.3, 48], [2013.34, 42], [2013.37, 40], [2013.4, 28], [2013.44, 26], [2013.48, 24], [2013.52, 22], [2013.57, 33],
  [2013.6, 20], [2013.64, 18], [2013.68, 14], [2013.72, 10], [2013.76, 8], [2013.8, 5], [2013.84, 3], [2013.88, 16],
  [2013.92, 19], [2013.96, 17], [2014.0, 10], [2014.04, 4], [2014.08, 6], [2014.12, 8], [2014.16, 11], [2014.2, 12],
  [2014.24, 19], [2014.28, 21], [2014.32, 20], [2014.36, 26], [2014.4, 4], [2014.44, 1], [2014.48, -2], [2014.52, 2],
  [2014.56, 8], [2014.6, 12], [2014.64, 10], [2014.68, 7], [2014.72, 6], [2014.76, 4], [2014.8, 5], [2014.84, 2],
  [2014.87, -5], [2014.92, 8], [2014.96, 14], [2015.0, 16], [2015.04, 18], [2015.06, 23], [2015.1, 6], [2015.14, 0],
  [2015.18, -3], [2015.22, -8], [2015.26, -13], [2015.3, -16], [2015.34, -14], [2015.38, -15], [2015.42, -12], [2015.46, -11],
  [2015.5, -9], [2015.54, -7], [2015.58, -5], [2015.62, -8], [2015.66, -16], [2015.7, -6], [2015.74, 4], [2015.78, 7],
  [2015.82, 12], [2015.86, 8], [2015.9, -2], [2015.94, -4], [2015.98, -6], [2016.02, -8], [2016.06, -7], [2016.1, -14],
  [2016.14, -17], [2016.18, -19], [2016.22, -21], [2016.26, -24], [2016.3, -27], [2016.34, -30], [2016.38, -37], [2016.42, -34],
  [2016.45, -25], [2016.48, -22], [2016.52, -21], [2016.56, -25],
];

// second reading of the A10 band (its other edge)
const A10_EDGE: [number, number][] = [
  [1999.92, -24], [1999.94, -28], [1999.96, -40], [1999.98, -47], [2000.0, -52], [2000.03, -56], [2000.06, -59], [2000.1, -62],
  [2000.13, -67], [2000.16, -72], [2000.19, -70], [2000.22, -70], [2000.26, -64], [2000.3, -60], [2000.34, -57], [2000.38, -54],
  [2000.42, -51], [2000.46, -49], [2000.51, -46], [2000.55, -40], [2000.59, -24], [2000.61, -20], [2000.64, -34], [2000.68, -44],
  [2000.72, -40], [2000.76, -30], [2000.79, -18], [2000.82, -18], [2000.86, -24], [2000.9, -28], [2000.94, -31], [2000.98, -30],
  [2001.02, -27], [2001.06, -24], [2001.1, -18], [2001.14, -9], [2001.18, -2], [2001.21, 2], [2001.23, 8], [2001.26, 22],
  [2001.28, 28], [2001.32, 16], [2001.36, 13], [2001.4, 14], [2001.42, 30], [2001.45, 38], [2001.49, 30], [2001.52, 32],
  [2001.55, 30], [2001.59, 14], [2001.63, 12], [2001.66, 25], [2001.7, 34], [2001.74, 34], [2001.78, 24], [2001.82, 16],
  [2001.86, 5], [2001.9, -6], [2001.94, 2], [2001.98, 4], [2002.02, -7], [2002.06, -10], [2002.1, -12], [2002.14, -14],
  [2002.18, -13], [2002.22, -11], [2002.26, -8], [2002.3, -4], [2002.34, 2], [2002.38, 10], [2002.42, 9], [2002.46, 12],
  [2002.5, 24], [2002.54, 34], [2002.57, 44], [2002.6, 52], [2002.64, 52], [2002.68, 48], [2002.72, 52], [2002.76, 64],
  [2002.78, 80], [2002.81, 60], [2002.84, 42], [2002.87, 32], [2002.9, 22], [2002.94, 19], [2002.98, 22], [2003.02, 28],
  [2003.06, 60], [2003.09, 80], [2003.11, 78], [2003.14, 68], [2003.17, 62], [2003.2, 54], [2003.24, 46], [2003.28, 38],
  [2003.32, 32], [2003.36, 28], [2003.4, 24], [2003.44, 20], [2003.48, 15], [2003.52, 10], [2003.56, 7], [2003.6, 4],
  [2003.64, 1], [2003.68, 12], [2003.72, 14], [2003.76, 5], [2003.8, 6], [2003.84, 5], [2003.88, 3], [2003.93, 4],
  [2003.98, -2], [2004.02, -11], [2004.06, -15], [2004.1, -17], [2004.14, -12], [2004.18, -5], [2004.22, -6], [2004.26, -8],
  [2004.3, 0], [2004.34, 13], [2004.38, 20], [2004.42, 28], [2004.46, 20], [2004.5, 18], [2004.54, 32], [2004.58, 35],
  [2004.62, 38], [2004.66, 36], [2004.7, 30], [2004.74, 26], [2004.78, 15], [2004.82, 18], [2004.86, 27], [2004.9, 27],
  [2004.94, 26], [2004.98, 25], [2005.03, 24], [2005.09, 23], [2005.15, 25], [2005.2, 30], [2005.24, 42], [2005.28, 46],
  [2005.32, 36], [2005.36, 24], [2005.41, 19], [2005.47, 13], [2005.52, 7], [2005.56, -4], [2005.6, -14], [2005.64, -17],
  [2005.69, -16], [2005.75, -15], [2005.81, -17], [2005.87, -13], [2005.93, -8], [2005.99, -7], [2006.05, -12], [2006.11, -15],
  [2006.17, -17], [2006.23, -16], [2006.29, -14], [2006.34, -8], [2006.38, 0], [2006.42, 7], [2006.46, 15], [2006.5, 23],
  [2006.54, 22], [2006.58, 16], [2006.63, 12], [2006.68, 11], [2006.73, 7], [2006.78, 0], [2006.82, -3], [2006.86, -2],
  [2006.91, 1], [2006.97, 7], [2007.03, 15], [2007.09, 16], [2007.15, 16], [2007.21, 16], [2007.27, 14], [2007.33, 14],
  [2007.39, 14], [2007.45, 13], [2007.51, 14], [2007.57, 24], [2007.63, 31], [2007.69, 30], [2007.75, 30], [2007.81, 28],
  [2007.87, 26], [2007.93, 25], [2007.98, 24], [2008.02, 24], [2008.06, 29], [2008.1, 34], [2008.14, 36], [2008.18, 39],
  [2008.22, 36], [2008.26, 29], [2008.3, 23], [2008.34, 16], [2008.39, 8], [2008.45, 0], [2008.5, -3], [2008.55, -2],
  [2008.61, 0], [2008.67, 3], [2008.72, 8], [2008.76, 24], [2008.8, 31], [2008.84, 36], [2008.88, 50], [2008.91, 62],
  [2008.94, 76], [2008.97, 86], [2009.0, 70], [2009.04, 58], [2009.07, 70], [2009.1, 84], [2009.13, 90], [2009.16, 96],
  [2009.18, 94], [2009.22, 82], [2009.26, 75], [2009.3, 68], [2009.34, 60], [2009.38, 51], [2009.42, 44], [2009.46, 36],
  [2009.5, 26], [2009.54, 22], [2009.59, 19], [2009.65, 20], [2009.71, 23], [2009.77, 24], [2009.83, 22], [2009.89, 24],
  [2009.95, 23], [2010.01, 18], [2010.07, 12], [2010.13, 10], [2010.19, 10], [2010.25, 10], [2010.31, 18], [2010.36, 26],
  [2010.4, 34], [2010.44, 42], [2010.48, 47], [2010.52, 42], [2010.57, 33], [2010.63, 31], [2010.69, 28], [2010.75, 25],
  [2010.81, 23], [2010.87, 22], [2010.93, 20], [2010.99, 19], [2011.05, 16], [2011.11, 13], [2011.17, 12], [2011.22, 7],
  [2011.27, 1], [2011.3, 5], [2011.35, 12], [2011.41, 12], [2011.47, 12], [2011.53, 18], [2011.58, 38], [2011.61, 58],
  [2011.64, 70], [2011.67, 74], [2011.7, 74], [2011.73, 68], [2011.76, 58], [2011.8, 52], [2011.84, 49], [2011.88, 44],
  [2011.92, 38], [2011.96, 35], [2012.01, 28], [2012.07, 22], [2012.13, 21], [2012.18, 19], [2012.23, 18], [2012.28, 18],
  [2012.32, 22], [2012.36, 30], [2012.4, 34], [2012.44, 38], [2012.48, 44], [2012.52, 51], [2012.56, 56], [2012.6, 59],
  [2012.64, 62], [2012.68, 63], [2012.72, 67], [2012.76, 74], [2012.8, 77], [2012.84, 79], [2012.88, 82], [2012.92, 81],
  [2012.96, 75], [2013.0, 71], [2013.04, 69], [2013.08, 65], [2013.12, 61], [2013.16, 58], [2013.2, 55], [2013.24, 52],
  [2013.28, 49], [2013.32, 45], [2013.36, 41], [2013.39, 34], [2013.42, 27], [2013.46, 25], [2013.5, 23], [2013.55, 28],
  [2013.59, 26], [2013.62, 19], [2013.66, 16], [2013.7, 12], [2013.74, 9], [2013.78, 6], [2013.82, 4], [2013.86, 10],
  [2013.9, 18], [2013.94, 18], [2013.98, 13], [2014.02, 7], [2014.06, 5], [2014.1, 7], [2014.14, 10], [2014.18, 12],
  [2014.22, 16], [2014.26, 20], [2014.3, 21], [2014.34, 23], [2014.38, 14], [2014.42, 2], [2014.46, 0], [2014.5, 0],
  [2014.54, 5], [2014.58, 10], [2014.62, 11], [2014.66, 9], [2014.7, 6], [2014.74, 5], [2014.78, 4], [2014.82, 3],
  [2014.86, -2], [2014.9, 2], [2014.94, 11], [2014.98, 15], [2015.02, 17], [2015.05, 20], [2015.08, 14], [2015.12, 3],
  [2015.16, -2], [2015.2, -6], [2015.24, -11], [2015.28, -15], [2015.32, -15], [2015.36, -14], [2015.4, -13], [2015.44, -12],
  [2015.48, -10], [2015.52, -8], [2015.56, -6], [2015.6, -6], [2015.64, -12], [2015.68, -10], [2015.72, -1], [2015.76, 6],
  [2015.8, 10], [2015.84, 10], [2015.88, 2], [2015.92, -3], [2015.96, -5], [2016.0, -7], [2016.04, -8], [2016.08, -11],
  [2016.12, -16], [2016.16, -18], [2016.2, -20], [2016.24, -23], [2016.28, -26], [2016.32, -28], [2016.36, -33], [2016.4, -36],
  [2016.44, -29], [2016.47, -23], [2016.5, -22], [2016.54, -23],
];

// A10 has no value after mid-2016 : plotted at 0 until the end of the axis
const A10_ZERO_TAIL: [number, number][] = [[2016.56, 0], [2023.0, 0]];
// "0,0%" reference series
const ZERO_LINE: [number, number][] = [[1999.91, 0], [2016.56, 0]];

const toPoints = (...arrs: [number, number][][]) => arrs.flat().map(([x, y]) => ({ x, y }));

const plusShape = (color: string, half: number, sw: number) => (props: any) => {
  const { cx, cy } = props;
  if (cx == null || cy == null || isNaN(cx) || isNaN(cy)) return <g />;
  return (
    <path
      d={`M${cx - half},${cy}H${cx + half}M${cx},${cy - half}V${cy + half}`}
      stroke={color}
      strokeWidth={sw}
      fill="none"
    />
  );
};
const emptyShape = () => <g />;

const fmtPct = (v: number) => (v < 0 ? `- ${Math.abs(v)}%` : `${v}%`);

const XTick = (props: any) => {
  const { x, y, payload } = props;
  return (
    <text
      x={x}
      y={y}
      textAnchor="middle"
      dominantBaseline="central"
      fill="#595959"
      fontSize={17.5}
      fontFamily="'DejaVu Sans', sans-serif"
    >
      {`01/01/${payload.value}`}
    </text>
  );
};

const TITLE_FONT = "Lato, 'Liberation Sans', sans-serif";

export default function App() {
  return (
    <div style={{ position: 'relative', width: CHART_W, height: CHART_H, background: '#fff', overflow: 'hidden' }}>
      <style>{'html,body{margin:0;padding:0;background:#fff;}'}</style>
      <ScatterChart width={CHART_W} height={CHART_H} margin={{ top: 104, right: 75, bottom: 0, left: 0 }}>
        <CartesianGrid stroke="#d9d9d9" strokeWidth={2} />
        <XAxis
          type="number"
          dataKey="x"
          domain={X_DOMAIN}
          ticks={X_TICKS}
          interval={0}
          allowDataOverflow
          height={65}
          tickLine={false}
          tickSize={0}
          tickMargin={35}
          axisLine={{ stroke: '#bfbfbf', strokeWidth: 2 }}
          tick={(p: any) => <XTick {...p} />}
        />
        <YAxis
          type="number"
          dataKey="y"
          domain={Y_DOMAIN}
          ticks={Y_TICKS}
          interval={0}
          allowDataOverflow
          width={97.5}
          tickLine={false}
          tickSize={0}
          tickMargin={19}
          axisLine={{ stroke: '#bfbfbf', strokeWidth: 2 }}
          tick={{ fill: '#595959', fontSize: 17.5, fontFamily: "'DejaVu Sans', sans-serif" }}
          tickFormatter={fmtPct}
        />
        <ReferenceLine y={H_AXIS_CROSS} stroke="#bfbfbf" strokeWidth={2} />
        <Scatter
          name={SERIES_NAMES[0]}
          data={toPoints(A04, A04_EDGE)}
          shape={plusShape(SERIES_COLORS[0], 5, 1.5)}
          isAnimationActive={false}
        />
        <Scatter
          name={SERIES_NAMES[1]}
          data={toPoints(A07, A07_EDGE)}
          shape={plusShape(SERIES_COLORS[1], 4, 2.3)}
          isAnimationActive={false}
        />
        <Scatter
          name={SERIES_NAMES[2]}
          data={toPoints(A10, A10_EDGE)}
          shape={plusShape(SERIES_COLORS[2], 4, 2.3)}
          isAnimationActive={false}
        />
        <Scatter
          name="A10 zero"
          data={toPoints(A10_ZERO_TAIL)}
          line={{ stroke: SERIES_COLORS[2], strokeWidth: 9 }}
          shape={emptyShape}
          legendType="none"
          isAnimationActive={false}
        />
        <Scatter
          name={SERIES_NAMES[3]}
          data={toPoints(ZERO_LINE)}
          line={{ stroke: SERIES_COLORS[3], strokeWidth: 5.5, strokeLinecap: 'round' }}
          shape={emptyShape}
          isAnimationActive={false}
        />
      </ScatterChart>

      <svg
        width={CHART_W}
        height={CHART_H}
        style={{ position: 'absolute', left: 0, top: 0, pointerEvents: 'none' }}
      >
        {/* header band */}
        <rect x={0} y={0} width={CHART_W} height={53} fill="#7ec87e" />
        <rect x={0} y={53} width={CHART_W} height={4} fill="#d9d9d9" />
        <text
          x={35}
          y={37}
          fontFamily={TITLE_FONT}
          fontWeight={700}
          fontSize={26.5}
          fill="#000"
          textLength={2078}
          lengthAdjust="spacingAndGlyphs"
        >
          {MAIN_TITLE}
        </text>

        {/* chart frame */}
        <rect x={1} y={57} width={2206} height={1035} fill="none" stroke="#d9d9d9" strokeWidth={2} />
        <line x1={0} x2={CHART_W} y1={1101} y2={1101} stroke="#a6a6a6" strokeWidth={2} />

        {/* subtitle box */}
        <rect x={257} y={84} width={1693} height={120} fill="#fff" />
        <text x={259} y={112} fontFamily={TITLE_FONT} fontSize={22} fill="#595959" textLength={1687} lengthAdjust="spacingAndGlyphs" style={{ whiteSpace: 'pre' }}>
          {SUB_TITLE_LINES[0]}
        </text>
        <text x={1060} y={156} fontFamily={TITLE_FONT} fontSize={22} fill="#595959" textLength={85} lengthAdjust="spacingAndGlyphs">
          {SUB_TITLE_LINES[1]}
        </text>
        <text x={459} y={196} fontFamily={TITLE_FONT} fontSize={22} fill="#595959" textLength={1289} lengthAdjust="spacingAndGlyphs">
          {SUB_TITLE_LINES[2]}
        </text>

        {/* legend */}
        <rect x={1808} y={196} width={331} height={253} fill="#fff" />
        <path d="M1867,225H1875M1871,221V229" stroke={SERIES_COLORS[0]} strokeWidth={1.3} />
        <text x={1900} y={235} fontFamily={TITLE_FONT} fontSize={28} fill="#595959" textLength={200} lengthAdjust="spacingAndGlyphs">
          {SERIES_NAMES[0]}
        </text>
        <path d="M1867.5,288H1874.5M1871,284.5V291.5" stroke={SERIES_COLORS[1]} strokeWidth={2} />
        <text x={1900} y={298} fontFamily={TITLE_FONT} fontSize={28} fill="#595959" textLength={200} lengthAdjust="spacingAndGlyphs">
          {SERIES_NAMES[1]}
        </text>
        <path d="M1867.5,352H1874.5M1871,348.5V355.5" stroke={SERIES_COLORS[2]} strokeWidth={2} />
        <text x={1900} y={362} fontFamily={TITLE_FONT} fontSize={28} fill="#595959" textLength={200} lengthAdjust="spacingAndGlyphs">
          {SERIES_NAMES[2]}
        </text>
        <line x1={1847} x2={1895} y1={417} y2={417} stroke={SERIES_COLORS[3]} strokeWidth={5} strokeLinecap="round" />
        <text x={1900} y={427} fontFamily={TITLE_FONT} fontSize={28} fill="#595959" textLength={55} lengthAdjust="spacingAndGlyphs">
          {SERIES_NAMES[3]}
        </text>

        {/* selection handles */}
        <rect x={0} y={52} width={20} height={6} fill="#f5b800" />
        <rect x={2196} y={52} width={20} height={6} fill="#f5b800" />
        <rect x={2210} y={52} width={6} height={20} fill="#f5b800" />
        <rect x={0} y={1093} width={20} height={8} fill="#f5b800" />
        <rect x={2209} y={1037} width={7} height={64} fill="#f5b800" />
      </svg>
    </div>
  );
}
